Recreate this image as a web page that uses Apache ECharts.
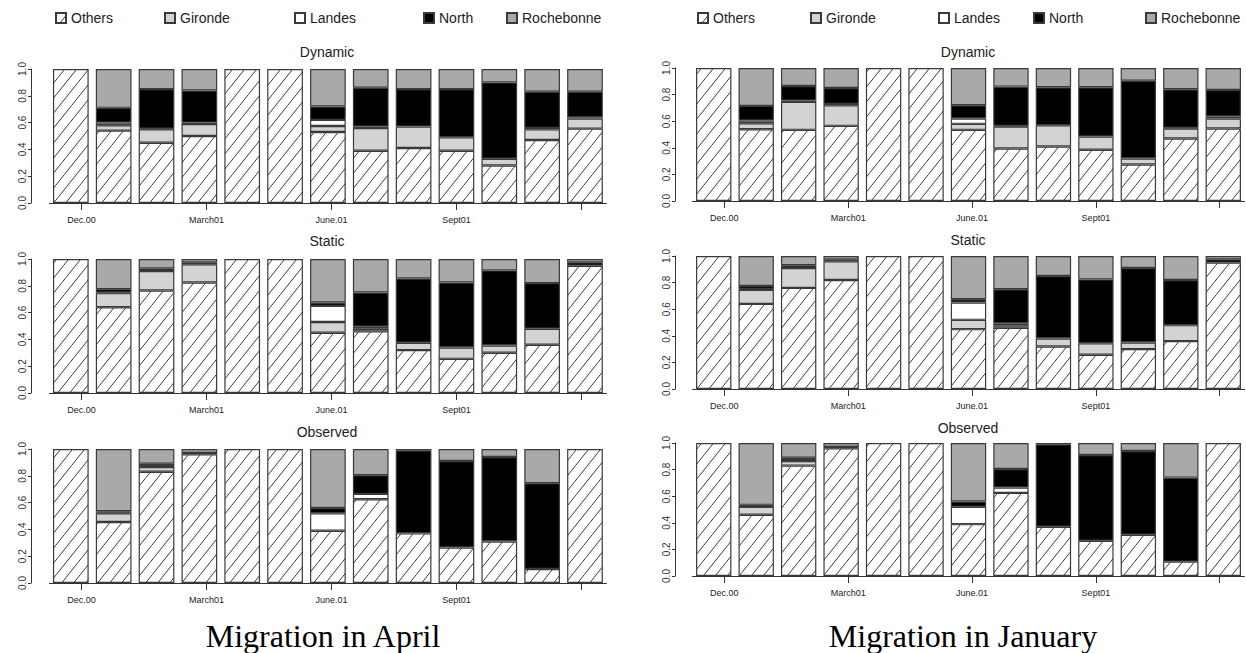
<!DOCTYPE html>
<html><head><meta charset="utf-8">
<script src="https://cdn.jsdelivr.net/npm/echarts@6/dist/echarts.min.js"></script>
<style>html,body{margin:0;padding:0;background:#fff}#c{width:1246px;height:653px}</style>
</head><body><div id="c"></div>
<script>
// ---------- data ----------
const categories = ['Others', 'Gironde', 'Landes', 'North', 'Rochebonne'];
const months = ['Dec.00','Jan.01','Feb.01','March01','Apr.01','May.01','June.01','July.01','Aug.01','Sept01','Oct.01','Nov.01','Dec.01'];
const tickLabels = ['Dec.00', 'March01', 'June.01', 'Sept01'];
const panelTitles = ['Dynamic', 'Static', 'Observed'];
const columnTitles = ['Migration in April', 'Migration in January'];

// Migration in April - Dynamic
const aprDynOthers     = [1, 0.54, 0.45, 0.50, 1, 1, 0.53, 0.39, 0.41, 0.39, 0.28, 0.47, 0.555];
const aprDynGironde    = [0, 0.04, 0.10, 0.09, 0, 0, 0.045, 0.17, 0.16, 0.10, 0.05, 0.08, 0.075];
const aprDynLandes     = [0, 0.02, 0.005, 0.01, 0, 0, 0.045, 0.01, 0, 0, 0, 0.01, 0.01];
const aprDynNorth      = [0, 0.11, 0.295, 0.24, 0, 0, 0.10, 0.29, 0.28, 0.36, 0.57, 0.27, 0.19];
const aprDynRochebonne = [0, 0.29, 0.15, 0.16, 0, 0, 0.28, 0.14, 0.15, 0.15, 0.10, 0.17, 0.17];
// Migration in April - Static
const aprStaOthers     = [1, 0.64, 0.765, 0.825, 1, 1, 0.45, 0.46, 0.32, 0.255, 0.30, 0.36, 0.95];
const aprStaGironde    = [0, 0.105, 0.145, 0.135, 0, 0, 0.08, 0.02, 0.055, 0.085, 0.055, 0.12, 0];
const aprStaLandes     = [0, 0.005, 0, 0, 0, 0, 0.12, 0.015, 0, 0, 0, 0, 0];
const aprStaNorth      = [0, 0.025, 0.02, 0.015, 0, 0, 0.025, 0.255, 0.48, 0.485, 0.56, 0.34, 0.025];
const aprStaRochebonne = [0, 0.225, 0.07, 0.025, 0, 0, 0.325, 0.25, 0.145, 0.175, 0.085, 0.18, 0.025];
// Migration in April - Observed
const aprObsOthers     = [1, 0.455, 0.83, 0.96, 1, 1, 0.39, 0.625, 0.37, 0.265, 0.31, 0.105, 1];
const aprObsGironde    = [0, 0.065, 0.035, 0, 0, 0, 0, 0, 0, 0, 0, 0, 0];
const aprObsLandes     = [0, 0.005, 0.015, 0, 0, 0, 0.13, 0.04, 0, 0, 0, 0, 0];
const aprObsNorth      = [0, 0.01, 0.01, 0.01, 0, 0, 0.04, 0.14, 0.62, 0.645, 0.63, 0.64, 0];
const aprObsRochebonne = [0, 0.465, 0.11, 0.03, 0, 0, 0.44, 0.195, 0.01, 0.09, 0.06, 0.255, 0];
// Migration in January - Dynamic
const janDynOthers     = [1, 0.54, 0.535, 0.565, 1, 1, 0.535, 0.395, 0.41, 0.385, 0.275, 0.47, 0.545];
const janDynGironde    = [0, 0.045, 0.21, 0.155, 0, 0, 0.045, 0.165, 0.16, 0.10, 0.045, 0.075, 0.075];
const janDynLandes     = [0, 0.02, 0.01, 0.01, 0, 0, 0.04, 0.005, 0, 0, 0, 0.005, 0.015];
const janDynNorth      = [0, 0.11, 0.11, 0.12, 0, 0, 0.10, 0.295, 0.285, 0.37, 0.585, 0.29, 0.20];
const janDynRochebonne = [0, 0.285, 0.135, 0.15, 0, 0, 0.28, 0.14, 0.145, 0.145, 0.095, 0.16, 0.165];
// Migration in January - Static
const janStaOthers     = [1, 0.64, 0.76, 0.82, 1, 1, 0.45, 0.46, 0.32, 0.257, 0.30, 0.36, 0.95];
const janStaGironde    = [0, 0.105, 0.15, 0.14, 0, 0, 0.07, 0.02, 0.06, 0.087, 0.05, 0.12, 0];
const janStaLandes     = [0, 0.005, 0, 0, 0, 0, 0.13, 0.015, 0, 0, 0, 0, 0];
const janStaNorth      = [0, 0.025, 0.02, 0.015, 0, 0, 0.025, 0.255, 0.47, 0.48, 0.56, 0.34, 0.025];
const janStaRochebonne = [0, 0.225, 0.07, 0.025, 0, 0, 0.325, 0.25, 0.15, 0.176, 0.09, 0.18, 0.025];
// Migration in January - Observed
const janObsOthers     = [1, 0.46, 0.83, 0.96, 1, 1, 0.39, 0.625, 0.37, 0.265, 0.31, 0.108, 1];
const janObsGironde    = [0, 0.06, 0.035, 0, 0, 0, 0, 0, 0, 0, 0, 0, 0];
const janObsLandes     = [0, 0.005, 0.015, 0, 0, 0, 0.13, 0.04, 0, 0, 0, 0, 0];
const janObsNorth      = [0, 0.01, 0.01, 0.01, 0, 0, 0.04, 0.14, 0.62, 0.645, 0.63, 0.632, 0];
const janObsRochebonne = [0, 0.465, 0.11, 0.03, 0, 0, 0.44, 0.195, 0.01, 0.09, 0.06, 0.26, 0];

const panelData = [
  [[aprDynOthers, aprDynGironde, aprDynLandes, aprDynNorth, aprDynRochebonne],
   [aprStaOthers, aprStaGironde, aprStaLandes, aprStaNorth, aprStaRochebonne],
   [aprObsOthers, aprObsGironde, aprObsLandes, aprObsNorth, aprObsRochebonne]],
  [[janDynOthers, janDynGironde, janDynLandes, janDynNorth, janDynRochebonne],
   [janStaOthers, janStaGironde, janStaLandes, janStaNorth, janStaRochebonne],
   [janObsOthers, janObsGironde, janObsLandes, janObsNorth, janObsRochebonne]]
];

// ---------- styling / layout ----------
const pc = document.createElement('canvas');
pc.width = 12; pc.height = 15;
const g = pc.getContext('2d');
g.fillStyle = '#fff'; g.fillRect(0, 0, 12, 15);
g.strokeStyle = '#1a1a1a'; g.lineWidth = 0.85;
for (let k = -1; k <= 1; k++) { g.beginPath(); g.moveTo(k * 12, 15); g.lineTo(k * 12 + 12, 0); g.stroke(); }
const hatch = { image: pc, repeat: 'repeat', imageWidth: 12, imageHeight: 15 };
const fills = [hatch, '#d3d3d3', '#ffffff', '#000000', '#a9a9a9'];

const FONT = 'Liberation Sans, Arial, sans-serif';
const cols = [
  { gridLeft: 49.4, gridWidth: 557, axisX: 31, titleX: 327, tops: [69, 259, 449], h: 134, mainX: 323,
    legendLeft: [55, 164, 294, 423, 506] },
  { gridLeft: 692.5, gridWidth: 552, axisX: 675, titleX: 968, tops: [68, 256, 443], h: 133, mainX: 963,
    legendLeft: [697, 810, 938, 1033, 1145] }
];
const titleY = [[52, 241, 432], [52, 240, 428]];
const tickPos = [1, 4.5, 8, 11.5, 15];
const labelPos = [1, 4.5, 8, 11.5];

const grid = [], xAxis = [], yAxis = [], series = [], graphic = [], legend = [];
let p = 0;
cols.forEach((c, ci) => {
  c.tops.forEach((top, ri) => {
    grid.push({ left: c.gridLeft, top: top, width: c.gridWidth, height: c.h, containLabel: false });
    xAxis.push({ type: 'category', gridIndex: p, data: months, show: false, position: 'top' });
    xAxis.push({
      type: 'value', gridIndex: p, min: 0.1, max: 15.7, position: 'bottom',
      axisLine: { show: true, lineStyle: { color: '#333', width: 1 } },
      axisTick: { show: true, customValues: tickPos, length: 7, lineStyle: { color: '#333', width: 1 } },
      axisLabel: { show: true, customValues: labelPos, margin: 12, fontSize: 9, color: '#222', fontFamily: FONT,
        formatter: v => tickLabels[labelPos.indexOf(v)] || '' },
      splitLine: { show: false }
    });
    yAxis.push({
      type: 'value', gridIndex: p, min: 0, max: 1, interval: 0.2, offset: c.gridLeft - c.axisX,
      axisLine: { show: true, lineStyle: { color: '#333', width: 1 } },
      axisTick: { show: true, length: 3, lineStyle: { color: '#333' } },
      axisLabel: { rotate: 90, margin: 4, fontSize: 10, color: '#333', fontFamily: FONT, formatter: v => v.toFixed(1) },
      splitLine: { show: false }
    });
    categories.forEach((name, k) => {
      series.push({
        type: 'bar', name: name, xAxisIndex: 2 * p, yAxisIndex: p, stack: 'panel' + p,
        data: panelData[ci][ri][k].map(v => (v === 0 ? '-' : v)),
        barCategoryGap: '16.67%', animation: false,
        itemStyle: { color: fills[k], borderColor: '#3a3a3a', borderWidth: 1.2 },
        emphasis: { disabled: true }, silent: true
      });
    });
    graphic.push({ type: 'text', x: c.titleX, y: titleY[ci][ri],
      style: { text: panelTitles[ri], font: '14px ' + FONT, fill: '#222', align: 'center', verticalAlign: 'middle' } });
    p++;
  });
  graphic.push({ type: 'text', x: c.mainX, y: 636,
    style: { text: columnTitles[ci], font: '32px "Liberation Serif", "Times New Roman", serif', fill: '#000', align: 'center', verticalAlign: 'middle' } });
  categories.forEach((name, k) => {
    legend.push({ data: [name], left: c.legendLeft[k], top: 11, icon: 'rect', itemWidth: 10, itemHeight: 10,
      padding: 0, selectedMode: false,
      textStyle: { fontSize: 14, color: '#222', fontFamily: FONT } });
  });
});

const chart = echarts.init(document.getElementById('c'), null, { renderer: 'svg', width: 1246, height: 653 });
chart.setOption({
  backgroundColor: '#fff', animation: false,
  textStyle: { fontFamily: FONT },
  grid, xAxis, yAxis, series, legend, graphic
});
</script></body></html>
